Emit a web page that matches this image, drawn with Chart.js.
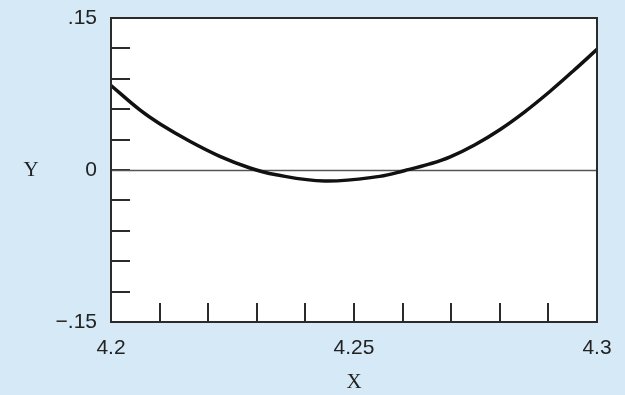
<!DOCTYPE html>
<html>
<head>
<meta charset="utf-8">
<script src="https://cdn.jsdelivr.net/npm/chart.js@4/dist/chart.umd.min.js"></script>
<style>
  html, body { margin: 0; padding: 0; background: #d5e9f7; }
  #wrap { width: 625px; height: 395px; }
</style>
</head>
<body>
<div id="wrap"><canvas id="chartCurve"></canvas></div>
<script>
// curve
var xValues = [4.2000, 4.2060, 4.2101, 4.2163, 4.2224, 4.2286, 4.2337, 4.2440, 4.2553,
               4.2605, 4.2656, 4.2698, 4.2749, 4.2800, 4.2852, 4.2903, 4.2951, 4.3000];
var yValues = [0.0834, 0.0590, 0.0454, 0.0281, 0.0135, 0.0020, -0.0045, -0.0108, -0.0063,
               -0.0005, 0.0060, 0.0130, 0.0250, 0.0398, 0.0577, 0.0775, 0.0977, 0.1190];
// which ticks carry a label
var xTickLabels = {"4.2": "4.2", "4.25": "4.25", "4.3": "4.3"};
var yTickLabels = {"0.15": ".15", "0": "0", "-0.15": "\u2212.15"};

var points = [];
for (let i = 0; i < xValues.length; i++) { points.push({x: xValues[i], y: yValues[i]}); }

const tickFont = {family: "Liberation Sans", size: 21};
const INK = "#2b2b2b";

// white plot area, inward tick marks, frame and the upright "Y"
const framePlugin = {
    id: "frame",
    beforeDraw(chart) {
        const a = chart.chartArea, c = chart.ctx;
        c.save();
        c.fillStyle = "#ffffff";
        c.fillRect(a.left, a.top, a.right - a.left, a.bottom - a.top);
        c.restore();
    },
    beforeDatasetsDraw(chart) {
        const a = chart.chartArea, c = chart.ctx;
        const xs = chart.scales.x, ys = chart.scales.y;
        c.save();
        c.strokeStyle = INK;
        c.lineWidth = 2;
        c.beginPath();
        ys.ticks.forEach(function (t) {
            const py = Math.round(ys.getPixelForValue(t.value));
            if (py <= a.top + 1 || py >= a.bottom - 1) return;
            c.moveTo(a.left, py);
            c.lineTo(a.left + 19, py);
        });
        xs.ticks.forEach(function (t) {
            const px = Math.round(xs.getPixelForValue(t.value));
            if (px <= a.left + 1 || px >= a.right - 1) return;
            c.moveTo(px, a.bottom);
            c.lineTo(px, a.bottom - 19);
        });
        c.stroke();
        // zero line
        const zy = Math.round(ys.getPixelForValue(0)) + 0.5;
        c.strokeStyle = "#555555";
        c.lineWidth = 1.5;
        c.beginPath();
        c.moveTo(a.left, zy);
        c.lineTo(a.right, zy);
        c.stroke();
        c.restore();
    },
    afterDraw(chart) {
        const a = chart.chartArea, c = chart.ctx;
        c.save();
        c.strokeStyle = INK;
        c.lineWidth = 2;
        c.strokeRect(a.left, a.top, a.right - a.left, a.bottom - a.top);
        c.fillStyle = "#222222";
        c.font = "21px 'Liberation Serif'";
        c.textAlign = "center";
        c.textBaseline = "middle";
        c.fillText("Y", 31, chart.scales.y.getPixelForValue(0));
        c.restore();
    }
};

var chartCurve = new Chart(document.getElementById("chartCurve").getContext("2d"), {
    type: "line",
    data: {
        datasets: [{
            data: points,
            borderColor: "#111111",
            borderWidth: 3.5,
            pointRadius: 0,
            tension: 0.4,
            fill: false
        }]
    },
    options: {
        responsive: true,
        maintainAspectRatio: false,
        animation: false,
        layout: {padding: {top: 18, right: 28, left: 0, bottom: 0}},
        plugins: {legend: {display: false}, tooltip: {enabled: false}},
        scales: {
            x: {
                type: "linear",
                min: 4.2,
                max: 4.3,
                grid: {display: false, drawTicks: false},
                border: {display: false},
                afterFit: function (s) { s.height = 73; s.paddingLeft = 0; s.paddingRight = 0; },
                ticks: {
                    stepSize: 0.01,
                    autoSkip: false,
                    maxRotation: 0,
                    padding: 14,
                    color: "#222222",
                    font: tickFont,
                    callback: function (v) {
                        const k = String(Math.round(v * 1000) / 1000);
                        return xTickLabels[k] || "";
                    }
                },
                title: {
                    display: true,
                    text: "X",
                    color: "#222222",
                    font: {family: "Liberation Serif", size: 21},
                    padding: {top: 8, bottom: 0}
                }
            },
            y: {
                type: "linear",
                min: -0.15,
                max: 0.15,
                grid: {display: false, drawTicks: false},
                border: {display: false},
                afterFit: function (s) { s.width = 111; s.paddingTop = 0; s.paddingBottom = 0; },
                ticks: {
                    stepSize: 0.03,
                    autoSkip: false,
                    padding: 14,
                    color: "#222222",
                    font: tickFont,
                    callback: function (v) {
                        let k = String(Math.round(v * 100) / 100);
                        if (k === "-0") k = "0";
                        return yTickLabels[k] || "";
                    }
                }
            }
        }
    },
    plugins: [framePlugin]
});
</script>
</body>
</html>
